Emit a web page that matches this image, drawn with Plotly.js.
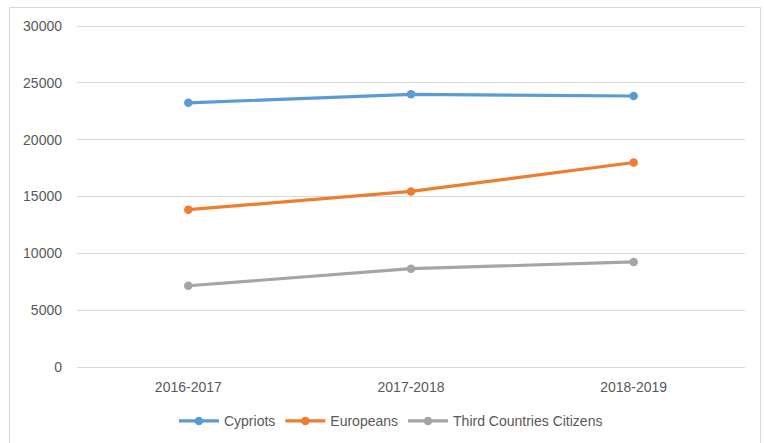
<!DOCTYPE html>
<html>
<head>
<meta charset="utf-8">
<script src="https://cdn.plot.ly/plotly-3.0.1.min.js"></script>
<style>
  html, body { margin: 0; padding: 0; background: #ffffff; }
  #wrap { position: relative; width: 764px; height: 443px; overflow: hidden; }
  #chart { width: 764px; height: 443px; }
  #frame { position: absolute; left: 9px; top: 7px; width: 750px; height: 460px;
           border: 1px solid #d9d9d9; pointer-events: none; }
</style>
</head>
<body>
<div id="wrap">
  <div id="chart"></div>
  <div id="frame"></div>
</div>
<script>
const categories = ["2016-2017", "2017-2018", "2018-2019"];
const cypriots = [23250, 24000, 23850];
const europeans = [13850, 15450, 18000];
const thirdCountries = [7150, 8650, 9250];
const seriesNames = ["Cypriots", "Europeans", "Third Countries Citizens"];
const yTickVals = [0, 5000, 10000, 15000, 20000, 25000, 30000];

const colors = ["#5B9BD5", "#ED7D31", "#A5A5A5"];
const seriesData = [cypriots, europeans, thirdCountries];

const traces = seriesData.map((vals, i) => ({
  type: "scatter",
  mode: "lines+markers",
  name: seriesNames[i],
  x: categories,
  y: vals,
  line: { color: colors[i], width: 3.2 },
  marker: { color: colors[i], size: 8.5, symbol: "circle" }
}));

const font = { family: "Liberation Sans, Arial, sans-serif", size: 14, color: "#595959" };

const layout = {
  width: 764,
  height: 443,
  paper_bgcolor: "#ffffff",
  plot_bgcolor: "#ffffff",
  font: font,
  margin: { l: 76.5, r: 19.4, t: 24.5, b: 75.7, pad: 0, autoexpand: false },
  showlegend: true,
  legend: {
    orientation: "h",
    x: 0.47, xanchor: "center", xref: "paper",
    y: -0.112, yanchor: "top",
    font: font,
    itemwidth: 40,
    tracegroupgap: 0
  },
  xaxis: {
    type: "category",
    range: [-0.5, 2.5],
    showgrid: false,
    zeroline: false,
    showline: false,
    ticks: "",
    ticklabelstandoff: 10,
    tickfont: font,
    automargin: false,
    fixedrange: true
  },
  yaxis: {
    range: [0, 30100],
    tickvals: yTickVals,
    ticktext: yTickVals.map(String),
    showgrid: true,
    gridcolor: "#d9d9d9",
    gridwidth: 1,
    zeroline: true,
    zerolinecolor: "#d9d9d9",
    zerolinewidth: 1,
    showline: false,
    ticks: "",
    ticklabelstandoff: 14,
    tickfont: font,
    automargin: false,
    fixedrange: true
  }
};

Plotly.newPlot("chart", traces, layout, { displayModeBar: false, staticPlot: true });
</script>
</body>
</html>
